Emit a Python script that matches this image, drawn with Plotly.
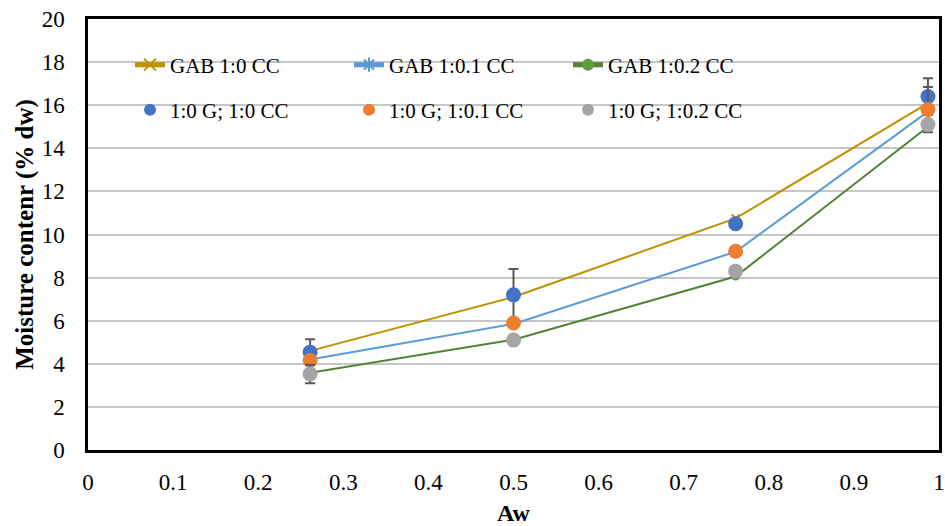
import plotly.graph_objects as go

aw = [0.261, 0.50, 0.761, 0.987]

# GAB model curves
gab_10 = [4.6, 7.1, 10.75, 16.1]
gab_101 = [4.2, 5.85, 9.2, 15.7]
gab_102 = [3.58, 5.12, 8.05, 15.0]

# Experimental points
exp_10 = [4.54, 7.2, 10.5, 16.4]
exp_101 = [4.15, 5.89, 9.22, 15.8]
exp_102 = [3.53, 5.1, 8.3, 15.1]

err_10 = [0.6, 1.2, 0.2, 0.85]
err_101 = [0.0, 0.0, 0.0, 1.05]
err_102 = [0.43, 0.1, 0.0, 0.0]

FONT = "Liberation Serif, Times New Roman, serif"
ERRC = "#595959"

fig = go.Figure()

fig.add_trace(go.Scatter(x=aw, y=gab_10, name="GAB 1:0 CC", mode="lines+markers",
                         line=dict(color="#BF9000", width=2),
                         marker=dict(symbol="x-thin-open", size=8, color="#BF9000",
                                     line=dict(color="#BF9000", width=2)),
                         legend="legend"))
fig.add_trace(go.Scatter(x=aw, y=gab_101, name="GAB 1:0.1 CC", mode="lines+markers",
                         line=dict(color="#5B9BD5", width=2),
                         marker=dict(symbol="asterisk-open", size=8, color="#5B9BD5",
                                     line=dict(color="#5B9BD5", width=2)),
                         legend="legend2"))
fig.add_trace(go.Scatter(x=aw, y=gab_102, name="GAB 1:0.2 CC", mode="lines+markers",
                         line=dict(color="#548235", width=2),
                         marker=dict(symbol="circle", size=8, color="#5E9B3C"),
                         legend="legend3"))

fig.add_trace(go.Scatter(x=aw, y=exp_10, name="1:0 G; 1:0 CC", mode="markers",
                         marker=dict(symbol="circle", size=15, color="#4472C4"),
                         error_y=dict(type="data", array=err_10, color=ERRC, thickness=2, width=5),
                         legend="legend4"))
fig.add_trace(go.Scatter(x=aw, y=exp_101, name="1:0 G; 1:0.1 CC", mode="markers",
                         marker=dict(symbol="circle", size=15, color="#ED7D31"),
                         error_y=dict(type="data", array=err_101, color=ERRC, thickness=2, width=5),
                         legend="legend5"))
fig.add_trace(go.Scatter(x=aw, y=exp_102, name="1:0 G; 1:0.2 CC", mode="markers",
                         marker=dict(symbol="circle", size=15, color="#A5A5A5"),
                         error_y=dict(type="data", array=err_102, color=ERRC, thickness=2, width=5),
                         legend="legend6"))

L, R, T, B = 88, 6, 19, 76
W, H = 945, 526
pw = W - L - R
ph = H - T - B

def px_x(p):
    return (p - L) / pw

def px_y(p):
    return (H - B - p) / ph

leg_common = dict(font=dict(family=FONT, size=21, color="black"),
                  bgcolor="rgba(0,0,0,0)", borderwidth=0,
                  xref="paper", yref="paper", xanchor="left", yanchor="middle",
                  itemsizing="constant")
cols = [172, 391, 610]
rows = [65, 110]
names = ["legend", "legend2", "legend3", "legend4", "legend5", "legend6"]
legs = {}
for i, nm in enumerate(names):
    r = i // 3
    c = i % 3
    legs[nm] = dict(leg_common, x=px_x(cols[c] - 42), y=px_y(rows[r]))

fig.update_layout(
    width=W, height=H,
    margin=dict(l=L, r=R, t=T, b=B, autoexpand=False),
    paper_bgcolor="white", plot_bgcolor="white",
    font=dict(family=FONT, color="black"),
    showlegend=True,
    **legs,
    shapes=[dict(type="rect", xref="paper", yref="paper",
                 x0=px_x(97), x1=px_x(753), y0=px_y(135), y1=px_y(35),
                 fillcolor="white", line=dict(width=0), layer="between")],
)

fig.update_xaxes(range=[0, 1], dtick=0.1, tick0=0, showgrid=False, zeroline=False,
                 showline=True, linecolor="black", linewidth=2.5, mirror=True,
                 ticks="", ticklabelstandoff=10, automargin=False,
                 tickfont=dict(family=FONT, size=23, color="black"),
                 title=dict(text="<b>Aw</b>", font=dict(family=FONT, size=24, color="black"), standoff=12))
fig.update_yaxes(range=[0, 20], dtick=2, tick0=0, showgrid=True, gridcolor="#C6C6C6", gridwidth=1.5,
                 zeroline=False,
                 showline=True, linecolor="black", linewidth=2.5, mirror=True,
                 ticks="", ticklabelstandoff=16, automargin=False,
                 tickfont=dict(family=FONT, size=23, color="black"),
                 title=dict(text="<b>Moisture contenr (% dw)</b>",
                            font=dict(family=FONT, size=25, color="black"), standoff=1))

fig.write_html("out.html")
